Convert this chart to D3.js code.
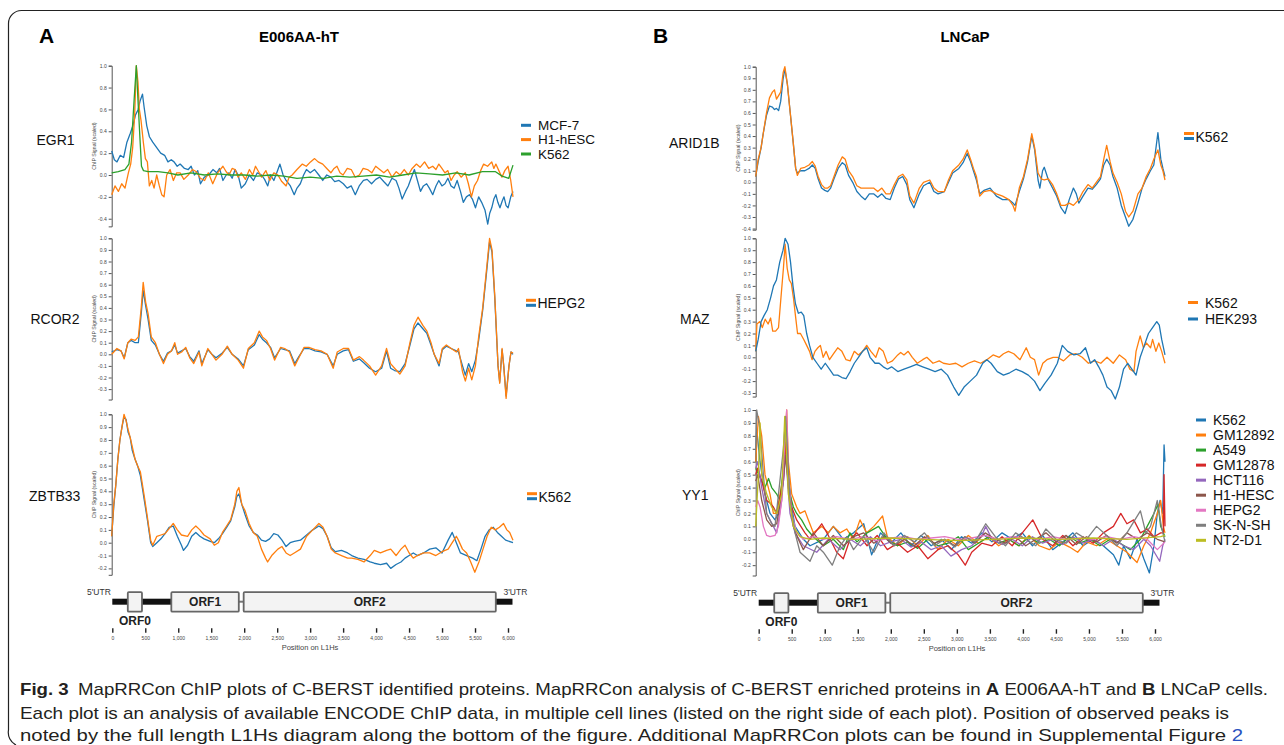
<!DOCTYPE html>
<html>
<head>
<meta charset="utf-8">
<script src="https://cdn.jsdelivr.net/npm/d3@7"></script>
<style>
  body { margin: 0; background: #fff; }
  svg text { font-family: "Liberation Sans", Arial, sans-serif; }
</style>
</head>
<body>
<svg id="fig" width="1284" height="745"></svg>
<script>
// ---- data: [position on L1Hs (bp), scaled ChIP signal] ----
var L1_LEN = 6064;

var egr1_MCF7 = [[0,0.22],[40,0.14],[80,0.12],[130,0.18],[180,0.16],[230,0.3],[280,0.38],[320,0.45],[360,0.55],[400,0.6],[430,0.68],[465,0.74],[490,0.62],[530,0.45],[570,0.35],[620,0.3],[680,0.25],[740,0.2],[800,0.18],[850,0.12],[900,0.14],[942,0.12],[990,0.08],[1034,0.1],[1100,0.06],[1157,0.05],[1200,0.08],[1250,0],[1300,0.04],[1342,-0.08],[1400,-0.02],[1465,0],[1530,0.05],[1588,0.02],[1630,0.06],[1681,-0.05],[1730,0],[1773,0.02],[1820,-0.03],[1865,0.05],[1910,0],[1958,-0.12],[2019,-0.08],[2080,0],[2142,-0.05],[2200,0.02],[2265,0],[2310,-0.04],[2358,-0.1],[2400,0],[2450,-0.05],[2500,0.03],[2542,0.1],[2590,0],[2635,-0.05],[2700,-0.1],[2758,-0.18],[2800,-0.12],[2850,-0.08],[2900,0],[2943,0.05],[3000,0.02],[3066,0.05],[3130,0],[3189,-0.05],[3250,0],[3312,-0.02],[3370,-0.06],[3435,-0.05],[3500,-0.08],[3558,-0.12],[3620,-0.1],[3681,-0.18],[3740,-0.1],[3804,-0.05],[3860,-0.04],[3927,-0.08],[3990,-0.04],[4050,-0.02],[4110,-0.06],[4174,-0.1],[4235,-0.03],[4297,-0.05],[4340,-0.12],[4389,-0.22],[4440,-0.15],[4482,-0.1],[4530,-0.02],[4574,0.05],[4620,-0.05],[4666,-0.15],[4710,-0.1],[4759,-0.08],[4800,-0.12],[4851,-0.18],[4900,-0.1],[4943,-0.05],[4990,-0.1],[5036,-0.08],[5080,-0.03],[5128,-0.1],[5175,-0.12],[5220,-0.05],[5270,-0.15],[5313,-0.25],[5360,-0.2],[5405,-0.18],[5450,-0.22],[5497,-0.3],[5545,-0.2],[5590,-0.25],[5640,-0.32],[5682,-0.45],[5712,-0.35],[5743,-0.3],[5775,-0.22],[5805,-0.18],[5835,-0.25],[5867,-0.3],[5900,-0.24],[5928,-0.2],[5960,-0.28],[5990,-0.3],[6030,-0.2],[6064,-0.15]];
var egr1_H1 = [[0,-0.18],[50,-0.1],[101,-0.15],[151,-0.08],[201,-0.12],[252,0.02],[287,0.1],[317,0.25],[347,0.55],[372,1],[397,0.85],[418,0.6],[443,0.5],[478,0.3],[509,0.15],[539,0.12],[569,-0.1],[605,-0.05],[640,-0.12],[680,0],[720,-0.1],[756,-0.18],[791,-0.2],[831,0],[882,0.05],[932,-0.05],[982,0.02],[1034,0.02],[1090,-0.04],[1157,0],[1220,0.05],[1280,0.03],[1340,-0.03],[1404,-0.05],[1460,0.02],[1527,-0.08],[1600,0.02],[1681,0.08],[1730,0.03],[1773,0],[1820,0.06],[1865,0.05],[1910,-0.02],[1958,0.02],[2020,-0.04],[2081,0.05],[2130,0],[2173,0.08],[2220,0.03],[2265,-0.02],[2330,0.04],[2389,-0.05],[2450,0.02],[2512,0],[2570,-0.06],[2635,-0.1],[2680,-0.02],[2727,0],[2800,0.05],[2881,0.1],[2940,0.08],[3004,0.12],[3066,0.15],[3120,0.12],[3189,0.1],[3250,0.06],[3312,0.02],[3360,0.06],[3404,0.08],[3450,0.02],[3496,0],[3560,0.06],[3620,0.05],[3680,-0.02],[3743,0],[3800,0.06],[3866,0.05],[3930,0.02],[3989,0.08],[4050,0.05],[4112,0.02],[4170,0.05],[4235,-0.02],[4300,0.03],[4358,0],[4420,0.05],[4482,0],[4540,0.06],[4605,0.1],[4660,0.07],[4728,0.12],[4790,0.06],[4851,0.08],[4900,0.05],[4943,0.1],[4990,0.06],[5036,0.02],[5080,0.04],[5128,-0.05],[5175,0],[5220,0.03],[5280,-0.02],[5343,0.02],[5390,-0.08],[5436,-0.2],[5480,-0.1],[5528,-0.05],[5575,0.04],[5620,0.1],[5680,0.08],[5743,0.12],[5775,0.06],[5805,0.1],[5850,0.04],[5897,-0.02],[5940,0.04],[5990,0.08],[6030,-0.05],[6064,-0.2]];
var egr1_K562 = [[0,0.02],[100,0.03],[200,0.05],[260,0.1],[300,0.3],[340,0.7],[372,1],[400,0.65],[430,0.3],[450,0.08],[480,0.04],[550,0.03],[700,0.03],[850,0.02],[1000,0],[1200,0.02],[1400,0],[1600,0.01],[1800,0],[2000,0],[2200,-0.01],[2400,0],[2600,-0.01],[2800,-0.03],[3000,-0.02],[3200,-0.03],[3400,-0.01],[3600,-0.02],[3800,-0.01],[4000,0],[4200,-0.02],[4400,0],[4600,0.02],[4800,0.01],[5000,0],[5200,0.02],[5400,0],[5600,0.03],[5800,0.03],[5900,-0.01],[6000,-0.03],[6064,0.09]];

var rcor2_a = [[0,0],[79,0.05],[140,0.03],[189,-0.04],[244,0.1],[293,0.13],[354,0.12],[403,0.15],[446,0.4],[476,0.62],[513,0.45],[550,0.35],[598,0.15],[660,0.1],[721,0],[782,-0.08],[843,0],[904,0.03],[953,0.1],[995,0],[1057,0.02],[1118,0.06],[1179,-0.03],[1240,-0.08],[1319,0.02],[1362,-0.1],[1453,0.05],[1514,0],[1576,-0.05],[1667,0],[1747,0.07],[1820,0],[1911,-0.05],[1991,-0.12],[2064,0.05],[2156,0.1],[2229,0.2],[2278,0.15],[2339,0.12],[2400,0.05],[2461,-0.05],[2553,0.06],[2614,0.05],[2687,0.02],[2766,-0.1],[2828,-0.03],[2907,0.06],[2980,0.06],[3072,0.04],[3163,0.03],[3255,0],[3347,-0.12],[3408,0.02],[3499,0.05],[3579,0.05],[3652,-0.05],[3744,-0.02],[3805,-0.05],[3896,-0.1],[3988,-0.18],[4079,-0.1],[4153,0.05],[4214,-0.08],[4275,-0.12],[4354,-0.17],[4434,-0.1],[4507,0.1],[4568,0.25],[4629,0.32],[4702,0.25],[4763,0.2],[4825,0.1],[4873,0],[4947,-0.08],[4996,0.05],[5057,0.08],[5130,0.05],[5209,0.02],[5240,0.05],[5301,-0.15],[5344,-0.23],[5393,-0.12],[5441,-0.22],[5496,-0.1],[5545,0.15],[5606,0.4],[5667,0.75],[5710,1],[5747,0.9],[5789,0.5],[5838,-0.1],[5863,-0.25],[5899,0.05],[5924,-0.1],[5960,-0.38],[6003,-0.1],[6034,0.02],[6064,0.01]];
var rcor2_b = [[0,0.02],[79,0.04],[140,0.03],[189,-0.03],[244,0.1],[293,0.12],[354,0.1],[403,0.1],[446,0.35],[476,0.55],[513,0.42],[550,0.3],[598,0.12],[660,0.08],[721,0],[782,-0.06],[843,0.01],[904,0.03],[953,0.08],[995,0.01],[1057,0.03],[1118,0.05],[1179,-0.02],[1240,-0.06],[1319,0.03],[1362,-0.08],[1453,0.04],[1514,0],[1576,-0.03],[1667,0.01],[1747,0.06],[1820,0],[1911,-0.04],[1991,-0.1],[2064,0.04],[2156,0.08],[2229,0.17],[2278,0.13],[2339,0.1],[2400,0.06],[2461,-0.03],[2553,0.05],[2614,0.04],[2687,0.03],[2766,-0.08],[2828,-0.02],[2907,0.05],[2980,0.05],[3072,0.03],[3163,0.02],[3255,0],[3347,-0.1],[3408,0],[3499,0.03],[3579,0.04],[3652,-0.06],[3744,-0.04],[3805,-0.07],[3896,-0.12],[3988,-0.15],[4079,-0.12],[4153,0.03],[4214,-0.12],[4275,-0.14],[4354,-0.15],[4434,-0.08],[4507,0.08],[4568,0.22],[4629,0.27],[4702,0.22],[4763,0.18],[4825,0.08],[4873,0],[4947,-0.1],[4996,0.04],[5057,0.07],[5130,0.05],[5209,0.03],[5240,0.02],[5301,-0.1],[5344,-0.18],[5393,-0.08],[5441,-0.15],[5496,-0.05],[5545,0.12],[5606,0.38],[5667,0.72],[5710,0.97],[5747,0.88],[5789,0.48],[5838,-0.1],[5863,-0.24],[5899,0.04],[5924,-0.1],[5960,-0.36],[6003,-0.1],[6034,0.02],[6064,0]];

var zbtb33_a = [[0,0.05],[31,0.3],[62,0.45],[93,0.65],[124,0.8],[155,0.9],[186,1],[217,0.95],[248,0.88],[279,0.82],[310,0.75],[353,0.65],[391,0.6],[434,0.55],[465,0.45],[496,0.35],[539,0.2],[589,0.02],[620,-0.02],[682,0.05],[744,0.06],[806,0.07],[868,0.11],[930,0.15],[992,0.1],[1054,0.06],[1147,0.05],[1209,0.1],[1271,0.13],[1333,0.1],[1395,0.06],[1488,0.03],[1550,-0.02],[1612,0],[1674,0.08],[1736,0.13],[1798,0.18],[1860,0.3],[1891,0.4],[1922,0.43],[1965,0.3],[2015,0.25],[2077,0.15],[2139,0.08],[2201,0.05],[2263,-0.05],[2325,-0.12],[2356,-0.15],[2418,-0.1],[2511,-0.05],[2573,-0.03],[2635,-0.08],[2697,-0.1],[2759,-0.08],[2852,-0.05],[2945,0.05],[3038,0.1],[3131,0.15],[3193,0.12],[3255,0.05],[3317,-0.05],[3379,-0.08],[3472,-0.1],[3565,-0.12],[3627,-0.12],[3720,-0.13],[3813,-0.15],[3906,-0.1],[3968,-0.06],[4061,-0.08],[4154,-0.06],[4216,-0.05],[4297,-0.1],[4371,-0.05],[4433,-0.02],[4495,-0.08],[4557,-0.12],[4619,-0.1],[4712,-0.08],[4805,-0.08],[4898,-0.1],[4991,-0.07],[5084,-0.05],[5146,0],[5208,0.05],[5239,0.02],[5301,-0.05],[5363,-0.08],[5425,-0.15],[5487,-0.23],[5549,-0.15],[5611,-0.05],[5673,0.05],[5735,0.12],[5797,0.1],[5859,0.12],[5921,0.15],[5971,0.1],[6014,0.08],[6064,0.02]];
var zbtb33_b = [[0,0.05],[31,0.28],[62,0.45],[93,0.65],[124,0.8],[155,0.9],[186,0.98],[217,0.96],[248,0.86],[279,0.82],[310,0.72],[353,0.65],[391,0.6],[434,0.52],[465,0.42],[496,0.32],[539,0.18],[589,0],[620,-0.03],[682,0],[744,0.03],[806,0.07],[868,0.12],[930,0.13],[992,0.05],[1054,-0.02],[1085,-0.06],[1147,-0.02],[1209,0.05],[1271,0.08],[1333,0.05],[1395,0.03],[1488,0.01],[1550,0],[1612,0.03],[1674,0.07],[1736,0.12],[1798,0.17],[1860,0.28],[1891,0.36],[1922,0.38],[1965,0.3],[2015,0.22],[2077,0.13],[2139,0.08],[2201,0.06],[2263,0.02],[2325,0.01],[2387,0.03],[2449,0.07],[2511,0.06],[2573,0.02],[2635,-0.03],[2697,0],[2759,0.01],[2852,0.02],[2945,0.06],[3038,0.1],[3131,0.13],[3193,0.11],[3255,0.05],[3317,-0.04],[3379,-0.07],[3472,-0.06],[3565,-0.08],[3627,-0.1],[3720,-0.12],[3813,-0.13],[3906,-0.15],[3968,-0.16],[4061,-0.17],[4154,-0.16],[4216,-0.2],[4297,-0.17],[4371,-0.15],[4433,-0.12],[4495,-0.1],[4557,-0.08],[4619,-0.1],[4712,-0.08],[4805,-0.05],[4898,-0.04],[4991,-0.08],[5084,0.02],[5146,0.08],[5208,0],[5270,-0.08],[5363,-0.1],[5456,-0.12],[5518,-0.14],[5580,-0.05],[5642,0.05],[5704,0.1],[5766,0.12],[5828,0.08],[5890,0.05],[5952,0.02],[6064,0]];

var arid1b_a = [[0,0.05],[37,0.2],[80,0.3],[111,0.42],[160,0.6],[204,0.73],[247,0.78],[278,0.8],[308,0.72],[339,0.75],[370,0.78],[407,0.95],[432,1],[469,0.85],[512,0.6],[555,0.35],[592,0.12],[617,0.06],[666,0.12],[728,0.13],[790,0.15],[839,0.18],[882,0.14],[925,0.05],[975,-0.02],[1024,-0.05],[1067,-0.05],[1110,-0.03],[1160,0.05],[1221,0.15],[1283,0.22],[1326,0.2],[1376,0.1],[1437,0.05],[1499,-0.03],[1561,-0.05],[1653,-0.05],[1746,-0.05],[1808,-0.08],[1869,-0.05],[1931,-0.1],[1993,-0.1],[2054,-0.02],[2116,0.05],[2178,0.07],[2239,0.02],[2283,-0.12],[2344,-0.18],[2424,-0.05],[2486,0],[2579,0.02],[2640,-0.05],[2702,-0.08],[2795,-0.08],[2856,0.02],[2918,0.1],[3010,0.15],[3072,0.2],[3134,0.28],[3183,0.2],[3226,0.12],[3270,0.05],[3319,-0.12],[3381,-0.08],[3473,-0.07],[3566,-0.1],[3658,-0.12],[3751,-0.15],[3812,-0.2],[3843,-0.25],[3905,-0.05],[3967,0.05],[4028,0.2],[4090,0.42],[4133,0.3],[4183,0.08],[4232,0.03],[4275,0.02],[4337,0.03],[4398,-0.02],[4460,-0.1],[4522,-0.2],[4584,-0.2],[4645,-0.18],[4707,-0.2],[4787,-0.15],[4849,-0.08],[4923,-0.02],[4985,-0.05],[5046,0],[5108,0.05],[5157,0.2],[5200,0.32],[5250,0.18],[5293,0.08],[5355,0],[5416,-0.1],[5478,-0.25],[5527,-0.3],[5589,-0.25],[5663,-0.1],[5725,-0.05],[5786,0.05],[5848,0.12],[5898,0.2],[5959,0.28],[6002,0.15],[6033,0.1],[6064,0.02]];
var arid1b_b = [[0,0.05],[37,0.18],[80,0.3],[111,0.42],[160,0.58],[204,0.66],[247,0.65],[278,0.63],[308,0.64],[339,0.62],[370,0.7],[407,0.9],[432,0.98],[469,0.85],[512,0.6],[555,0.35],[592,0.12],[617,0.08],[666,0.1],[728,0.1],[790,0.12],[839,0.15],[882,0.12],[925,0.03],[975,-0.05],[1024,-0.07],[1067,-0.08],[1110,-0.05],[1160,0.03],[1221,0.12],[1283,0.17],[1326,0.15],[1376,0.06],[1437,0],[1499,-0.08],[1561,-0.12],[1622,-0.15],[1684,-0.1],[1746,-0.1],[1808,-0.13],[1869,-0.1],[1931,-0.14],[1993,-0.15],[2054,-0.05],[2116,0.03],[2178,0.05],[2239,-0.02],[2283,-0.15],[2344,-0.22],[2424,-0.1],[2486,-0.03],[2579,0],[2640,-0.08],[2702,-0.1],[2795,-0.08],[2856,0],[2918,0.08],[3010,0.12],[3072,0.17],[3134,0.25],[3183,0.18],[3226,0.1],[3270,0.02],[3319,-0.1],[3381,-0.07],[3473,-0.05],[3566,-0.12],[3658,-0.15],[3751,-0.15],[3812,-0.18],[3843,-0.2],[3905,-0.08],[3967,0.03],[4028,0.18],[4090,0.4],[4133,0.28],[4183,0.02],[4210,-0.05],[4250,0.1],[4275,0.13],[4337,0.02],[4398,-0.05],[4460,-0.12],[4522,-0.22],[4584,-0.27],[4645,-0.15],[4707,-0.05],[4750,-0.1],[4787,-0.18],[4849,-0.12],[4923,-0.05],[4985,-0.06],[5046,-0.02],[5108,0.03],[5157,0.15],[5200,0.2],[5250,0.15],[5293,0.05],[5355,-0.05],[5416,-0.2],[5478,-0.3],[5527,-0.38],[5589,-0.32],[5663,-0.18],[5725,-0.05],[5786,0.03],[5848,0.1],[5898,0.15],[5959,0.43],[6002,0.2],[6033,0.12],[6064,0.05]];

var maz_K562 = [[0,0.05],[18,0.28],[61,0.3],[98,0.25],[141,0.32],[184,0.28],[221,0.33],[252,0.22],[295,0.22],[338,0.25],[374,0.5],[411,0.75],[436,0.95],[466,0.75],[497,0.65],[528,0.62],[559,0.5],[589,0.35],[620,0.2],[663,0.2],[712,0.15],[755,0.1],[798,0.05],[835,-0.02],[878,0.05],[921,0.08],[958,0.1],[1000,0],[1043,0.05],[1093,-0.02],[1154,0.03],[1215,0.08],[1277,0.05],[1338,-0.02],[1399,-0.03],[1461,0.05],[1522,0.02],[1584,0.05],[1645,0.1],[1706,0.05],[1780,0],[1829,0.08],[1890,0.05],[1952,-0.05],[2026,-0.03],[2105,0.02],[2148,0.04],[2197,0.02],[2259,0.05],[2320,0],[2394,-0.05],[2474,-0.02],[2535,0],[2627,-0.05],[2719,-0.03],[2781,-0.05],[2873,-0.06],[2965,-0.05],[3057,-0.08],[3149,-0.05],[3241,-0.03],[3333,-0.05],[3425,-0.02],[3517,0.02],[3609,0],[3671,0.03],[3744,0.05],[3824,0.03],[3916,-0.02],[4008,0.08],[4069,0],[4131,-0.02],[4192,-0.15],[4254,-0.05],[4315,-0.02],[4407,0],[4469,0],[4561,-0.03],[4653,0.02],[4745,0.03],[4837,0],[4929,-0.05],[5021,-0.03],[5113,-0.05],[5205,0],[5297,-0.05],[5389,0.02],[5481,-0.02],[5543,-0.1],[5604,-0.12],[5635,0.05],[5696,0.18],[5745,0.08],[5788,0.12],[5850,0.08],[5880,0.15],[5929,0.05],[5972,0.12],[6015,0.05],[6064,-0.05]];
var maz_HEK293 = [[0,0.05],[37,0.15],[80,0.3],[123,0.35],[172,0.4],[221,0.5],[264,0.6],[307,0.65],[356,0.8],[405,0.9],[436,1],[479,0.95],[516,0.8],[552,0.6],[589,0.45],[632,0.37],[675,0.38],[712,0.35],[755,0.2],[798,0.1],[847,0],[908,-0.05],[970,-0.1],[1031,-0.05],[1093,-0.1],[1154,-0.15],[1215,-0.15],[1277,-0.17],[1338,-0.18],[1399,-0.12],[1461,-0.05],[1522,0],[1584,0.05],[1645,0.08],[1694,0],[1768,-0.05],[1829,-0.05],[1890,-0.08],[1952,-0.1],[2013,-0.08],[2105,-0.12],[2197,-0.1],[2289,-0.08],[2382,-0.06],[2474,-0.08],[2566,-0.1],[2658,-0.12],[2750,-0.1],[2842,-0.15],[2934,-0.25],[3008,-0.32],[3087,-0.25],[3179,-0.2],[3272,-0.15],[3364,-0.05],[3425,-0.02],[3487,-0.05],[3579,-0.12],[3671,-0.15],[3763,-0.13],[3855,-0.1],[3947,-0.12],[4039,-0.15],[4131,-0.2],[4211,-0.28],[4284,-0.22],[4376,-0.15],[4469,-0.05],[4542,0.1],[4622,0.05],[4714,0.02],[4806,0.03],[4886,0.08],[4960,-0.05],[5021,-0.02],[5082,-0.08],[5144,-0.15],[5205,-0.25],[5266,-0.28],[5328,-0.35],[5389,-0.25],[5450,-0.1],[5512,-0.05],[5573,-0.1],[5635,-0.15],[5696,0],[5758,0.1],[5819,0.2],[5880,0.25],[5942,0.3],[5979,0.27],[6015,0.15],[6064,0.02]];

var yy1_K562 = [[0,0.6],[15,0.85],[64,0.6],[138,0.35],[212,0.2],[286,0.15],[336,0.2],[410,0.45],[444,0.8],[484,0.5],[533,0.25],[583,0.1],[706,0],[805,-0.05],[1002,0],[1150,0.1],[1298,0],[1450,0.05],[1600,0.12],[1718,-0.12],[1850,0.05],[2000,-0.03],[2150,0.05],[2300,-0.05],[2450,0.03],[2600,-0.05],[2750,0],[2900,-0.08],[3050,0.02],[3200,-0.03],[3350,0.05],[3500,-0.02],[3650,0.05],[3800,0],[3950,0.05],[4100,-0.05],[4250,0.03],[4400,-0.08],[4550,-0.02],[4700,0.05],[4850,-0.05],[5000,0],[5150,-0.05],[5300,-0.12],[5380,-0.2],[5450,-0.05],[5550,-0.15],[5650,0],[5750,-0.15],[5833,-0.26],[5900,-0.05],[5950,0.2],[5990,0.3],[6030,0.2],[6050,0.73],[6064,0.6]];
var yy1_GM12892 = [[0,0.6],[40,0.95],[89,0.8],[138,0.5],[212,0.35],[262,0.2],[311,0.2],[410,0.5],[459,1],[484,0.6],[533,0.35],[607,0.25],[657,0.2],[730,0.22],[780,0.15],[854,0.05],[978,0.1],[1076,0.05],[1150,0.1],[1249,0.05],[1348,0.08],[1447,0],[1545,0.15],[1644,0.05],[1750,0.1],[1880,0.18],[1950,0.02],[2100,-0.05],[2250,0.02],[2400,-0.05],[2550,0.03],[2700,-0.08],[2850,0],[3000,-0.05],[3150,0.03],[3300,-0.03],[3450,0.02],[3600,-0.05],[3750,0],[3900,-0.05],[4050,0.03],[4200,-0.05],[4350,-0.08],[4500,-0.02],[4650,-0.06],[4770,-0.1],[4900,-0.02],[5050,-0.05],[5200,0],[5350,-0.05],[5500,-0.1],[5650,-0.18],[5750,-0.05],[5850,0.05],[5950,0.2],[6000,0.3],[6040,0.1],[6064,0.05]];
var yy1_A549 = [[0,0.55],[89,0.45],[138,0.4],[190,0.47],[237,0.4],[311,0.35],[360,0.3],[410,0.55],[444,0.7],[508,0.35],[558,0.25],[607,0.2],[680,0.15],[755,0.08],[854,0.02],[1002,-0.05],[1150,0],[1298,-0.08],[1397,0.05],[1500,-0.02],[1650,0.05],[1820,0.1],[1950,0],[2100,-0.05],[2250,-0.02],[2400,-0.07],[2550,0],[2700,-0.05],[2850,-0.03],[3000,0.02],[3150,-0.08],[3300,-0.03],[3450,0.02],[3600,-0.03],[3750,0],[3900,-0.05],[4050,0.02],[4200,-0.03],[4350,0],[4500,-0.05],[4650,0.02],[4800,-0.03],[4950,0],[5100,-0.05],[5250,0],[5400,-0.03],[5550,-0.08],[5700,0],[5800,0.1],[5900,0.2],[5960,0.27],[6000,0.1],[6064,0.02]];
var yy1_GM12878 = [[0,0.5],[30,0.55],[89,0.45],[163,0.3],[212,0.28],[262,0.25],[311,0.2],[410,0.45],[444,0.75],[484,0.4],[533,0.25],[607,0.15],[730,0.05],[805,0],[978,0.12],[1076,0.03],[1200,-0.1],[1298,-0.15],[1397,0],[1500,0.05],[1650,-0.05],[1800,0.03],[1950,-0.08],[2100,-0.03],[2250,-0.1],[2400,-0.05],[2550,-0.15],[2700,-0.08],[2850,-0.05],[3000,-0.12],[3105,-0.2],[3200,-0.1],[3350,-0.03],[3500,-0.05],[3650,0.02],[3800,-0.05],[3950,0.05],[4105,0.15],[4250,0],[4400,-0.05],[4550,0.03],[4700,-0.05],[4850,0.02],[5000,-0.03],[5150,0.05],[5300,0.1],[5409,0.2],[5500,0.12],[5600,0.15],[5700,0.05],[5800,0.08],[5900,0.02],[6000,0.05],[6040,0.05],[6050,0.5],[6064,0.1]];
var yy1_HCT116 = [[0,0.55],[30,0.6],[89,0.4],[163,0.2],[262,0.1],[311,0.05],[385,0.3],[444,0.65],[508,0.2],[583,0.05],[706,-0.05],[904,-0.1],[1076,0],[1250,-0.08],[1400,0],[1550,-0.05],[1700,0.02],[1850,-0.05],[2000,-0.02],[2150,0],[2300,-0.06],[2450,-0.02],[2600,-0.08],[2750,-0.05],[2893,-0.13],[3050,-0.08],[3200,-0.05],[3350,0.03],[3408,0.1],[3500,0],[3650,-0.04],[3800,0],[3950,-0.05],[4100,0.02],[4250,-0.03],[4400,0],[4550,-0.04],[4700,0.02],[4850,-0.03],[5000,0],[5150,-0.05],[5300,0],[5450,-0.05],[5600,-0.08],[5750,0],[5850,-0.05],[5985,-0.17],[6030,-0.05],[6064,0]];
var yy1_H1HESC = [[0,0.45],[30,0.5],[89,0.3],[163,0.15],[237,0.1],[311,0.12],[385,0.35],[444,0.65],[508,0.3],[558,0.1],[632,0],[706,-0.08],[854,0.05],[1000,-0.05],[1150,0.03],[1300,-0.05],[1450,0.02],[1600,0.05],[1750,-0.03],[1900,0.02],[2050,-0.05],[2200,0],[2350,-0.05],[2500,0.02],[2650,-0.03],[2800,0],[2950,-0.05],[3100,0.02],[3250,-0.03],[3400,0.05],[3550,0],[3700,-0.03],[3850,0.02],[4000,-0.05],[4150,0],[4300,0.05],[4450,-0.02],[4600,0.03],[4750,-0.04],[4900,0.02],[5050,-0.02],[5200,0.03],[5350,-0.03],[5500,0.05],[5650,0],[5800,0.05],[5950,0],[6064,-0.02]];
var yy1_HEPG2 = [[0,0.25],[30,0.3],[64,0.25],[114,0.1],[163,0.03],[212,0.02],[286,0.03],[336,0.1],[385,0.3],[425,0.7],[459,1],[484,0.5],[533,0.2],[607,0.05],[706,0],[850,0.02],[1000,0],[1200,0.02],[1400,0],[1600,0.02],[1800,-0.01],[2000,0.01],[2200,0.02],[2400,0],[2600,0.01],[2800,0.02],[3000,0],[3200,0.01],[3400,0.03],[3600,0],[3800,0.02],[4000,0.01],[4200,0],[4400,0.02],[4600,0],[4800,0.01],[5000,0],[5200,0.02],[5400,0],[5600,0.02],[5800,0],[5950,-0.08],[6064,-0.02]];
var yy1_SKNSH = [[0,0.7],[15,1],[64,0.85],[114,0.5],[163,0.2],[237,0.12],[286,0.1],[410,0.7],[444,0.95],[508,0.3],[583,0.05],[657,-0.1],[805,-0.17],[904,-0.05],[1002,-0.1],[1134,-0.2],[1250,-0.05],[1350,0.02],[1450,-0.08],[1600,0.02],[1750,-0.1],[1900,0.05],[2050,-0.05],[2200,0.03],[2350,-0.02],[2500,0.05],[2650,-0.05],[2800,0],[2950,-0.06],[3100,0.02],[3250,-0.02],[3408,0.12],[3550,0.02],[3700,-0.05],[3850,0.05],[4000,0],[4150,-0.05],[4300,0.08],[4450,0],[4600,-0.03],[4750,0.05],[4900,0],[5050,0.1],[5200,0.03],[5350,-0.05],[5500,0.05],[5700,0.22],[5780,0.05],[5850,0.1],[5950,0.3],[6010,0.1],[6064,-0.02]];
var yy1_NT2D1 = [[0,0.1],[40,0.5],[64,0.9],[89,0.5],[163,0.35],[237,0.25],[311,0.2],[385,0.35],[430,0.95],[484,0.35],[558,0.1],[657,0.02],[800,0],[1000,0.01],[1500,0],[2000,0.01],[2500,0],[3000,-0.01],[3500,0],[4000,0.01],[4500,0],[5000,0.01],[5500,0],[6000,0.02],[6064,0.03]];

// y tick values per plot
var ticksEGR1 = [1.0, 0.8, 0.6, 0.4, 0.2, 0.0, -0.2, -0.4];
var ticksRCOR2 = [1.0, 0.9, 0.8, 0.7, 0.6, 0.5, 0.4, 0.3, 0.2, 0.1, 0.0, -0.1, -0.2, -0.3];
var ticksZBTB33 = [1.0, 0.9, 0.8, 0.7, 0.6, 0.5, 0.4, 0.3, 0.2, 0.1, 0.0, -0.1, -0.2];
var ticksARID1B = [1.0, 0.9, 0.8, 0.7, 0.6, 0.5, 0.4, 0.3, 0.2, 0.1, 0.0, -0.1, -0.2, -0.3, -0.4];
var ticksMAZ = [1.0, 0.9, 0.8, 0.7, 0.6, 0.5, 0.4, 0.3, 0.2, 0.1, 0.0, -0.1, -0.2, -0.3];
var ticksYY1 = [1.0, 0.9, 0.8, 0.7, 0.6, 0.5, 0.4, 0.3, 0.2, 0.1, 0.0, -0.1, -0.2];

// L1Hs diagram features (bp)
var geneTicks = [0, 500, 1000, 1500, 2000, 2500, 3000, 3500, 4000, 4500, 5000, 5500, 6000];
var orf0 = [235, 450];
var orf1 = [895, 1918];
var orf2 = [1992, 5815];
var geneEnd = 6068;

var yy1Lines = ["K562", "GM12892", "A549", "GM12878", "HCT116", "H1-HESC", "HEPG2", "SK-N-SH", "NT2-D1"];
var yy1Data = [yy1_K562, yy1_GM12892, yy1_A549, yy1_GM12878, yy1_HCT116, yy1_H1HESC, yy1_HEPG2, yy1_SKNSH, yy1_NT2D1];

// ---------------------------------------------------------------
var svg = d3.select("#fig");
var cat = d3.schemeCategory10;
var FONT = '"Liberation Sans", Arial, sans-serif';

// frame
svg.append("path")
  .attr("d", "M1284,10.5 H22 A13,13 0 0 0 8.5,23.5 V730 A14,14 0 0 0 16,745")
  .attr("fill", "none").attr("stroke", "#222").attr("stroke-width", 1.2);

var colA = { x0: 111.7, x1: 513, g0: 112.3, g6000: 508, barY: 601.7, mid: 310 };
var colB = { x0: 755.7, x1: 1165, g0: 758.7, g6000: 1155, barY: 602.7, mid: 957 };

// panel letters and titles
svg.append("text").attr("x", 39).attr("y", 43).attr("font-size", 21).attr("font-weight", "bold").text("A");
svg.append("text").attr("x", 653).attr("y", 43).attr("font-size", 21).attr("font-weight", "bold").text("B");
svg.append("text").attr("x", 299).attr("y", 42).attr("text-anchor", "middle").attr("font-size", 15).attr("font-weight", "bold").text("E006AA-hT");
svg.append("text").attr("x", 965).attr("y", 42).attr("text-anchor", "middle").attr("font-size", 15).attr("font-weight", "bold").text("LNCaP");

var panels = [
  { name: "EGR1", col: colA, yTop: 65.7, yZero: 175, min: -0.47, ticks: ticksEGR1, nameX: 36.5, nameY: 145,
    series: [{ label: "MCF-7", c: cat[0], d: egr1_MCF7 }, { label: "H1-hESC", c: cat[1], d: egr1_H1 }, { label: "K562", c: cat[2], d: egr1_K562 }],
    legend: { x: 521, ys: [125.3, 139.6, 154], fs: 13.5 } },
  { name: "RCOR2", col: colA, yTop: 238.3, yZero: 354.3, min: -0.39, ticks: ticksRCOR2, nameX: 30.5, nameY: 324,
    series: [{ label: "HEPG2", c: cat[0], d: rcor2_b }, { label: "HEPG2", c: cat[1], d: rcor2_a }],
    pair: { x: 526, y: 303.3, label: "HEPG2" } },
  { name: "ZBTB33", col: colA, yTop: 414.3, yZero: 542.7, min: -0.25, ticks: ticksZBTB33, nameX: 29, nameY: 501,
    series: [{ label: "K562", c: cat[0], d: zbtb33_b }, { label: "K562", c: cat[1], d: zbtb33_a }],
    pair: { x: 527, y: 496.7, label: "K562" } },
  { name: "ARID1B", col: colB, yTop: 66.7, yZero: 182.3, min: -0.41, ticks: ticksARID1B, nameX: 669, nameY: 148,
    series: [{ label: "K562", c: cat[0], d: arid1b_b }, { label: "K562", c: cat[1], d: arid1b_a }],
    pair: { x: 1184, y: 136.5, label: "K562" } },
  { name: "MAZ", col: colB, yTop: 238.3, yZero: 357.3, min: -0.33, ticks: ticksMAZ, nameX: 680, nameY: 324,
    series: [{ label: "K562", c: cat[1], d: maz_K562 }, { label: "HEK293", c: cat[0], d: maz_HEK293 }],
    legend: { x: 1188, ys: [302.5, 319], fs: 14 } },
  { name: "YY1", col: colB, yTop: 410, yZero: 539.3, min: -0.28, ticks: ticksYY1, nameX: 682, nameY: 500,
    series: yy1Lines.map(function (n, i) { return { label: n, c: cat[i], d: yy1Data[i] }; }),
    legend: { x: 1196, ys: yy1Lines.map(function (n, i) { return 420 + i * 15.04; }), fs: 14 } }
];

panels.forEach(function (p) {
  var col = p.col;
  var x = d3.scaleLinear().domain([0, L1_LEN]).range([col.x0, col.x1]);
  var unit = p.yZero - p.yTop;
  var y = d3.scaleLinear().domain([p.min, 1]).range([p.yZero - p.min * unit, p.yTop]);

  var ax = svg.append("g")
    .attr("transform", "translate(" + col.x0 + ",0)")
    .call(d3.axisLeft(y).tickValues(p.ticks).tickSize(3).tickSizeOuter(3).tickPadding(2)
      .tickFormat(function (d) { return d.toFixed(1); }));
  ax.select(".domain").attr("stroke", "#555");
  ax.selectAll(".tick line").attr("stroke", "#555");
  ax.selectAll(".tick text").attr("font-size", 5).attr("fill", "#444").attr("font-family", FONT);

  // y title
  var midY = (y(p.min) + y(1)) / 2;
  svg.append("text")
    .attr("transform", "translate(" + (col.x0 - 16) + "," + midY + ") rotate(-90)")
    .attr("text-anchor", "middle").attr("font-size", 5.2).attr("fill", "#444")
    .text("ChIP Signal (scaled)");

  // factor name
  svg.append("text").attr("x", p.nameX).attr("y", p.nameY).attr("font-size", 14).attr("fill", "#111").text(p.name);

  var line = d3.line().x(function (d) { return x(d[0]); }).y(function (d) { return y(d[1]); });
  p.series.forEach(function (s) {
    svg.append("path").datum(s.d)
      .attr("d", line).attr("fill", "none")
      .attr("stroke", s.c).attr("stroke-width", 1.3).attr("stroke-linejoin", "round");
  });

  if (p.legend) {
    p.series.forEach(function (s, i) {
      var ly = p.legend.ys[i];
      svg.append("rect").attr("x", p.legend.x).attr("y", ly - 1.5).attr("width", 10).attr("height", 3).attr("fill", s.c);
      svg.append("text").attr("x", p.legend.x + 17).attr("y", ly + p.legend.fs * 0.36).attr("font-size", p.legend.fs).attr("fill", "#111").text(s.label);
    });
  }
  if (p.pair) {
    // two data sets under one cell-line label: stacked swatches
    svg.append("rect").attr("x", p.pair.x).attr("y", p.pair.y - 4.5).attr("width", 10).attr("height", 3).attr("fill", cat[1]);
    svg.append("rect").attr("x", p.pair.x).attr("y", p.pair.y + 0.5).attr("width", 10).attr("height", 3).attr("fill", cat[0]);
    svg.append("text").attr("x", p.pair.x + 11.5).attr("y", p.pair.y + 5).attr("font-size", 14).attr("fill", "#111").text(p.pair.label);
  }
});

// L1Hs diagram under each column
function drawGene(col) {
  var gx = d3.scaleLinear().domain([0, 6000]).range([col.g0, col.g6000]);
  var g = svg.append("g");
  var by = col.barY;
  g.append("rect").attr("x", gx(0)).attr("y", by - 3).attr("width", gx(orf1[0]) - gx(0)).attr("height", 6).attr("fill", "#111");
  g.append("rect").attr("x", gx(orf2[1])).attr("y", by - 3).attr("width", gx(geneEnd) - gx(orf2[1])).attr("height", 6).attr("fill", "#111");
  g.append("line").attr("x1", gx(orf1[1])).attr("x2", gx(orf2[0])).attr("y1", by).attr("y2", by).attr("stroke", "#777").attr("stroke-width", 2);
  [orf0, orf1, orf2].forEach(function (o) {
    g.append("rect").attr("x", gx(o[0])).attr("y", by - 9.5).attr("width", gx(o[1]) - gx(o[0])).attr("height", 19.5)
      .attr("rx", 1).attr("fill", "#f3f3f3").attr("stroke", "#666").attr("stroke-width", 1.8);
  });
  g.append("text").attr("x", (gx(orf1[0]) + gx(orf1[1])) / 2).attr("y", by + 4.5).attr("text-anchor", "middle")
    .attr("font-size", 12).attr("font-weight", "bold").attr("fill", "#222").text("ORF1");
  g.append("text").attr("x", (gx(orf2[0]) + gx(orf2[1])) / 2).attr("y", by + 4.5).attr("text-anchor", "middle")
    .attr("font-size", 12).attr("font-weight", "bold").attr("fill", "#222").text("ORF2");
  g.append("text").attr("x", (gx(orf0[0]) + gx(orf0[1])) / 2).attr("y", by + 23.5).attr("text-anchor", "middle")
    .attr("font-size", 12).attr("font-weight", "bold").attr("fill", "#222").text("ORF0");
  g.append("text").attr("x", gx(0) - 1.5).attr("y", by - 6.5).attr("text-anchor", "end")
    .attr("font-size", 8.5).attr("fill", "#333").text("5'UTR");
  g.append("text").attr("x", gx(geneEnd) - 9).attr("y", by - 6.5)
    .attr("font-size", 8.5).attr("fill", "#333").text("3'UTR");

  var ax = g.append("g").attr("transform", "translate(0," + (by + 26.5) + ")")
    .call(d3.axisBottom(gx).tickValues(geneTicks).tickSize(4.5).tickPadding(3.5).tickFormat(d3.format(",")));
  ax.select(".domain").remove();
  ax.selectAll(".tick line").attr("stroke", "#222").attr("stroke-width", 1.4);
  ax.selectAll(".tick text").attr("font-size", 5).attr("fill", "#444").attr("font-family", FONT);
  g.append("text").attr("x", col.mid).attr("y", by + 48.5).attr("text-anchor", "middle")
    .attr("font-size", 7.5).attr("fill", "#444").text("Position on L1Hs");
}
drawGene(colA);
drawGene(colB);

// caption
var capFont = '"Liberation Sans Narrow", "DejaVu Sans Condensed", "Liberation Sans", sans-serif';
var cap = [
  { y: 695, len: 1248, parts: [["Fig. 3", true], ["\u2002MapRRCon ChIP plots of C-BERST identified proteins. MapRRCon analysis of C-BERST enriched proteins in ", false], ["A", true], [" E006AA-hT and ", false], ["B", true], [" LNCaP cells.", false]] },
  { y: 719, len: 1209, parts: [["Each plot is an analysis of available ENCODE ChIP data, in multiple cell lines (listed on the right side of each plot). Position of observed peaks is", false]] },
  { y: 741, len: 1223, parts: [["noted by the full length L1Hs diagram along the bottom of the figure. Additional MapRRCon plots can be found in Supplemental Figure ", false], ["2", false, "#2a52be"]] }
];
cap.forEach(function (c) {
  var t = svg.append("text").attr("x", 20).attr("y", c.y).attr("font-size", 17).attr("fill", "#231f20")
    .attr("font-family", capFont).attr("textLength", c.len).attr("lengthAdjust", "spacingAndGlyphs");
  c.parts.forEach(function (pt) {
    var s = t.append("tspan").text(pt[0]);
    if (pt[1]) s.attr("font-weight", "bold");
    if (pt[2]) s.attr("fill", pt[2]);
  });
});
</script>
</body>
</html>
